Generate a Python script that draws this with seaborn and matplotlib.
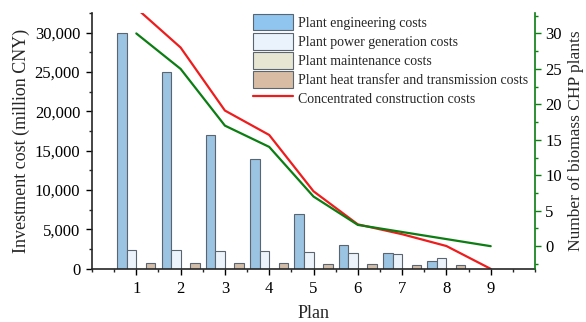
import numpy as np
import pandas as pd
import matplotlib
matplotlib.use("Agg")
import matplotlib.pyplot as plt
from matplotlib.ticker import MultipleLocator, FuncFormatter
from matplotlib.patches import Patch
from matplotlib.lines import Line2D
import seaborn as sns

# Cost components per plan (million CNY)
plans_bar = [1, 2, 3, 4, 5, 6, 7, 8]
engineering = [30000, 25000, 17000, 14000, 7000, 3000, 2000, 1000]
power_generation = [2400, 2400, 2300, 2300, 2150, 2000, 1850, 1400]
maintenance = [0, 0, 0, 0, 0, 0, 0, 0]
heat_transfer = [700, 700, 700, 700, 650, 600, 550, 450]

# Line series over all plans
plans_line = [1, 2, 3, 4, 5, 6, 7, 8, 9]
concentrated_cost = [33100, 28100, 20100, 17000, 9850, 5650, 4400, 2900, 0]
chp_plants = [30, 25, 17, 14, 7, 3, 2, 1, 0]

cost_names = [
    "Plant engineering costs",
    "Plant power generation costs",
    "Plant maintenance costs",
    "Plant heat transfer and transmission costs",
]
cost_colors = ["#8fc5ee", "#eaf3fc", "#e7e6d2", "#d9bca4"]
line_name = "Concentrated construction costs"

sns.set_style("ticks")
plt.rcParams["font.family"] = ["Liberation Serif", "DejaVu Serif"]

long = pd.DataFrame({
    "Plan": np.tile(plans_bar, 4),
    "Cost": np.repeat(cost_names, len(plans_bar)),
    "Value": engineering + power_generation + maintenance + heat_transfer,
})

fig = plt.figure(figsize=(5.86, 3.22), dpi=100)
ax = fig.add_axes([0.157, 0.165, 0.756, 0.795])

sns.barplot(data=long, x="Plan", y="Value", hue="Cost", hue_order=cost_names,
            palette=cost_colors, native_scale=True, width=0.86, gap=0,
            errorbar=None, edgecolor="#5b6570", linewidth=0.8, ax=ax,
            legend=False)
sns.lineplot(x=plans_line, y=concentrated_cost, color="#ee1c1c", lw=1.6, ax=ax)

ax.set_xlim(0, 10)
ax.set_ylim(0, 32500)
ax.xaxis.set_minor_locator(MultipleLocator(0.5))
ax.set_xticks(range(1, 10))
ax.yaxis.set_major_locator(MultipleLocator(5000))
ax.yaxis.set_minor_locator(MultipleLocator(2500))
ax.yaxis.set_major_formatter(FuncFormatter(lambda v, p: f"{v:,.0f}"))
ax.tick_params(axis="both", which="major", direction="out", length=4.5, width=1,
               labelsize=12, colors="black", pad=4)
ax.tick_params(axis="both", which="minor", direction="out", length=2.5, width=1)
ax.set_xlabel("Plan", fontsize=13, labelpad=6)
ax.set_ylabel("Investment cost (million CNY)", fontsize=13, labelpad=3)
ax.spines["top"].set_visible(False)
ax.spines["right"].set_visible(False)
ax.spines["left"].set_linewidth(1.2)
ax.spines["bottom"].set_linewidth(1.2)

ax2 = ax.twinx()
sns.lineplot(x=plans_line, y=chp_plants, color="#0b7d12", lw=1.6, ax=ax2)
ax2.set_ylim(-3.2, 32.9)
ax2.yaxis.set_major_locator(MultipleLocator(5))
ax2.yaxis.set_minor_locator(MultipleLocator(2.5))
ax2.set_ylabel("Number of biomass CHP plants", fontsize=12.5, labelpad=4)
ax2.tick_params(axis="y", which="major", direction="out", length=4.5, width=1,
                labelsize=12, color="#0b7d12", labelcolor="black", pad=3)
ax2.tick_params(axis="y", which="minor", direction="out", length=2.5, width=1,
                color="#0b7d12")
for s in ["top", "left", "bottom"]:
    ax2.spines[s].set_visible(False)
ax2.spines["right"].set_color("#0b7d12")
ax2.spines["right"].set_linewidth(1.2)

handles = [Patch(facecolor=c, edgecolor="#5b6570", linewidth=0.8) for c in cost_colors]
handles.append(Line2D([], [], color="#ee1c1c", lw=1.6))
ax.legend(handles, cost_names + [line_name], loc="upper left",
          bbox_to_anchor=(0.345, 1.03), frameon=False, fontsize=10,
          handlelength=2.9, handleheight=1.5, handletextpad=0.35,
          labelspacing=0.15, borderaxespad=0.2)

fig.savefig("out.png", dpi=100)
